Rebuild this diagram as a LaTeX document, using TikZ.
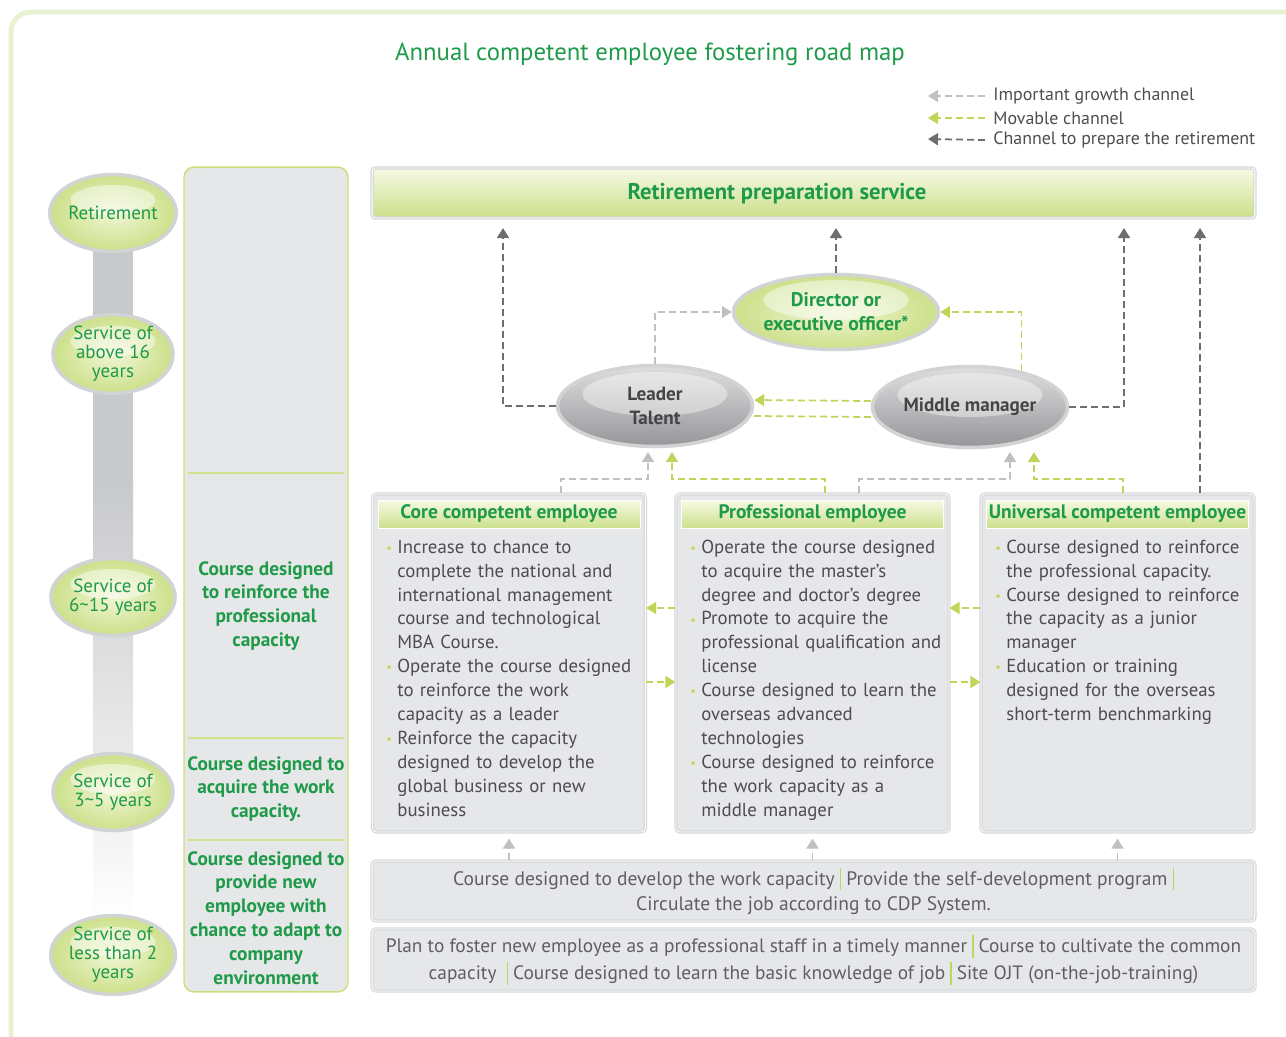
\documentclass[tikz,border=0pt]{standalone}
\usepackage{fontspec}
\setmainfont{PT Sans}
\usetikzlibrary{arrows.meta,positioning,shapes.geometric}
\definecolor{cgreen}{RGB}{30,154,72}
\definecolor{clime}{RGB}{190,214,90}
\definecolor{limelight}{RGB}{240,246,212}
\definecolor{limedark}{RGB}{204,224,138}
\definecolor{ringgray}{RGB}{210,211,213}
\definecolor{panelfill}{RGB}{230,231,232}
\definecolor{paneledge}{RGB}{214,215,217}
\definecolor{bodygray}{RGB}{77,77,79}
\definecolor{bargray}{RGB}{200,201,203}
\definecolor{framegreen}{RGB}{232,242,210}
\definecolor{growthgray}{RGB}{192,192,194}
\definecolor{retiregray}{RGB}{109,110,113}
\definecolor{ranktop}{RGB}{222,222,224}
\definecolor{rankbot}{RGB}{150,150,153}
\newcommand\bodyfont{\fontsize{10.7}{13.6}\selectfont}
\newcommand\stagefont{\fontsize{10.8}{10.9}\selectfont}
\newcommand\bitem[1]{\par\noindent\hangindent=2.2mm\hangafter=1\makebox[2.2mm][l]{\textcolor{clime}{\raisebox{0.1ex}{\scriptsize\textbullet}}}#1\par}
\newcommand\vsep{\ \textcolor{clime}{\rule[-0.25em]{0.7pt}{1.15em}}\ }
\tikzset{
  frame/.style={draw=framegreen, line width=1mm, rounded corners=4mm},
  stage/.style={ellipse, draw=ringgray, line width=2pt, inner color=limelight, outer color=limedark, minimum width=24mm, minimum height=15.4mm, inner sep=0pt, align=center, text=cgreen, font=\stagefont,
    path picture={\fill[white,opacity=0.45] ([yshift=2.6mm]path picture bounding box.center) ellipse (8.5mm and 3mm);}},
  chief/.style={stage, minimum width=39mm, minimum height=15mm, font=\fontsize{11.2}{13.6}\selectfont\bfseries,
    path picture={\fill[white,opacity=0.45] ([yshift=2.4mm]path picture bounding box.center) ellipse (14.5mm and 4mm);}},
  rank/.style={ellipse, draw=ringgray, line width=2pt, top color=ranktop, bottom color=rankbot, minimum width=39mm, minimum height=16.2mm, inner sep=0pt, align=center, text=bodygray!90!black, font=\fontsize{10.9}{13.6}\selectfont\bfseries,
    path picture={\fill[white,opacity=0.4] ([yshift=2.4mm]path picture bounding box.center) ellipse (14.5mm and 4.4mm);}},
  coursecol/.style={draw=clime!80, line width=0.8pt, fill=panelfill, rounded corners=2mm, minimum width=32.8mm, minimum height=165mm},
  coursetxt/.style={align=center, text=cgreen, font=\fontsize{11}{13.6}\selectfont\bfseries, inner sep=0pt},
  divider/.style={draw=clime!70, line width=0.8pt},
  topbar/.style={draw=paneledge, line width=0.7pt, double=white, double distance=0.5pt, top color=limelight!60!white, bottom color=limedark!95!clime, rounded corners=0.6mm, minimum width=176.6mm, minimum height=10mm},
  toptxt/.style={text=cgreen, font=\fontsize{12.9}{15}\selectfont\bfseries, inner sep=0pt},
  panel/.style={draw=paneledge, line width=0.7pt, double=white, double distance=0.5pt, fill=panelfill, rounded corners=0.8mm, minimum width=54.6mm, minimum height=67.6mm},
  head/.style={draw=white, line width=0.5pt, top color=limelight!60!white, bottom color=limedark, minimum width=52.4mm, minimum height=5.6mm, inner sep=0pt, text=cgreen, font=\fontsize{11.1}{12}\selectfont\bfseries},
  body/.style={anchor=north west, text width=56mm, align=left, inner sep=0pt, text=bodygray, font=\bodyfont},
  bar/.style={draw=paneledge, line width=0.7pt, double=white, double distance=0.5pt, fill=panelfill, rounded corners=0.8mm, minimum width=176.6mm, align=center, text=bodygray!90, inner sep=0pt},
  legendtxt/.style={anchor=west, inner sep=0pt, text=bodygray, font=\fontsize{10.2}{12}\selectfont},
  growth/.style={-{Triangle[length=2mm,width=2.4mm]}, line width=1pt, dash pattern=on 1.4mm off 0.8mm, growthgray},
  movable/.style={-{Triangle[length=2mm,width=2.4mm]}, line width=1pt, dash pattern=on 1.4mm off 0.8mm, clime},
  movableline/.style={line width=1pt, dash pattern=on 1.4mm off 0.8mm, clime},
  retire/.style={-{Triangle[length=2mm,width=2.4mm]}, line width=1pt, dash pattern=on 1.4mm off 0.8mm, retiregray}
}
\begin{document}
\begin{tikzpicture}[x=0.02cm,y=-0.02cm]
  \useasboundingbox (0,0) rectangle (1286,1036);
  \draw[frame] (11,12) rectangle (1330,1080);
  \node[text=cgreen, font=\fontsize{14.1}{17}\selectfont] (title) at (650,54) {Annual competent employee fostering road map};

  \node[legendtxt] (lg1) at (993,96) {Important growth channel};
  \node[legendtxt] (lg2) at (993,118) {Movable channel};
  \node[legendtxt] (lg3) at (993,140) {Channel to prepare the retirement};
  \coordinate (lg1a) at (928,96);
  \coordinate (lg2a) at (928,118);
  \coordinate (lg3a) at (928,139);
  \draw[growth] ([xshift=-1.6mm]lg1.west) -- (lg1a);
  \draw[movable] ([xshift=-1.6mm]lg2.west) -- (lg2a);
  \draw[retire] ([xshift=-1.6mm]lg3.west) -- (lg3a);

  \fill[bargray] (93,245) rectangle (133,480);
  \shade[top color=bargray, bottom color=white] (93,480) rectangle (133,925);
  \node[stage] (s1) at (113,213) {Retirement};
  \node[stage] (s2) at (113,354) {Service of\\above 16\\years};
  \node[stage] (s3) at (113,597) {Service of\\6\char`\~15 years};
  \node[stage] (s4) at (113,792) {Service of\\3\char`\~5 years};
  \node[stage] (s5) at (113,955) {Service of\\less than 2\\years};

  \node[coursecol] (cc) at (266,579.5) {};
  \draw[divider] (188,473) -- (344,473);
  \draw[divider] (188,738) -- (344,738);
  \draw[divider] (188,840) -- (344,840);
  \node[coursetxt] (c1) at (266,606) {Course designed\\to reinforce the\\professional\\capacity};
  \node[coursetxt] (c2) at (266,789) {Course designed to\\acquire the work\\capacity.};
  \node[coursetxt] (c3) at (266,918) {Course designed to\\provide new\\employee with\\chance to adapt to\\company\\environment};

  \node[topbar] (rps) at (813.5,193) {};
  \node[toptxt] (rpstxt) at (777,194) {Retirement preparation service};

  \node[chief] (director) at (836,312) {Director or\\executive officer*};
  \node[rank] (leader) at (655,406) {Leader\\Talent};
  \node[rank] (middle) at (970,407) {Middle manager};

  \node[panel] (core) at (509,663) {};
  \node[panel] (prof) at (812.5,663) {};
  \node[panel] (univ) at (1117.5,663) {};
  \node[head] (coreh) at (509,514) {Core competent employee};
  \node[head] (profh) at (812.5,514) {Professional employee};
  \node[head] (univh) at (1117.5,514) {Universal competent employee};
  \node[body] (coreb) at (386,529) {%
    \bitem{Increase to chance to\newline complete the national and\newline international management\newline course and technological\newline MBA Course.}
    \bitem{Operate the course designed\newline to reinforce the work\newline capacity as a leader}
    \bitem{Reinforce the capacity\newline designed to develop the\newline global business or new\newline business}};
  \node[body] (profb) at (690,529) {%
    \bitem{Operate the course designed\newline to acquire the master's\newline degree and doctor's degree}
    \bitem{Promote to acquire the\newline professional qualification and\newline license}
    \bitem{Course designed to learn the\newline overseas advanced\newline technologies}
    \bitem{Course designed to reinforce\newline the work capacity as a\newline middle manager}};
  \node[body] (univb) at (995,529) {%
    \bitem{Course designed to reinforce\newline the professional capacity.}
    \bitem{Course designed to reinforce\newline the capacity as a junior\newline manager}
    \bitem{Education or training\newline designed for the overseas\newline short-term benchmarking}};

  \node[bar, minimum height=12mm, font=\fontsize{11.1}{14.2}\selectfont] (bar1) at (813.5,891) {Course designed to develop the work capacity\vsep Provide the self-development program\vsep\\Circulate the job according to CDP System.};
  \node[bar, minimum height=12.4mm, font=\fontsize{11}{15.3}\selectfont] (bar2) at (813.5,960) {Plan to foster new employee as a professional staff in a timely manner\vsep Course to cultivate the common\\capacity \vsep Course designed to learn the basic knowledge of job\vsep Site OJT (on-the-job-training)};

  \coordinate (r1) at (503,228);
  \coordinate (r3) at (1124,228);
  \coordinate (r4) at (1200,228);
  \draw[retire] (leader.west) -| (r1);
  \draw[retire] (director.north) -- (director.north |- r1);
  \draw[retire] (middle.east) -| (r3);
  \draw[retire] (univ.north -| r4) -- (r4);

  \draw[growth] (leader.north) |- (director.west);
  \draw[movable] (middle.35) |- (director.east);
  \draw[movable] ([yshift=1.2mm]middle.west) -- ([yshift=1.2mm]leader.east);
  \draw[movableline] ([yshift=-2mm]leader.east) -- ([yshift=-2mm]middle.west);

  \coordinate (g1) at (561,479);
  \coordinate (g1t) at (648,452);
  \coordinate (m1) at (825,479);
  \coordinate (m1t) at (672,452);
  \coordinate (g2) at (859,479);
  \coordinate (g2t) at (1010,452);
  \coordinate (m3) at (1123,479);
  \coordinate (m3t) at (1034,452);
  \draw[growth] (core.north -| g1) -- (g1) -| (g1t);
  \draw[movable] (prof.north -| m1) -- (m1) -| (m1t);
  \draw[growth] (prof.north -| g2) -- (g2) -| (g2t);
  \draw[movable] (univ.north -| m3) -- (m3) -| (m3t);

  \coordinate (h1) at (0,608);
  \coordinate (h2) at (0,682);
  \draw[movable] (prof.west |- h1) -- (core.east |- h1);
  \draw[movable] (core.east |- h2) -- (prof.west |- h2);
  \draw[movable] (univ.west |- h1) -- (prof.east |- h1);
  \draw[movable] (prof.east |- h2) -- (univ.west |- h2);

  \draw[growth] (bar1.north -| core.south) -- ([yshift=-1.2mm]core.south);
  \draw[growth] (bar1.north -| prof.south) -- ([yshift=-1.2mm]prof.south);
  \draw[growth] (bar1.north -| univ.south) -- ([yshift=-1.2mm]univ.south);
\end{tikzpicture}
\end{document}
